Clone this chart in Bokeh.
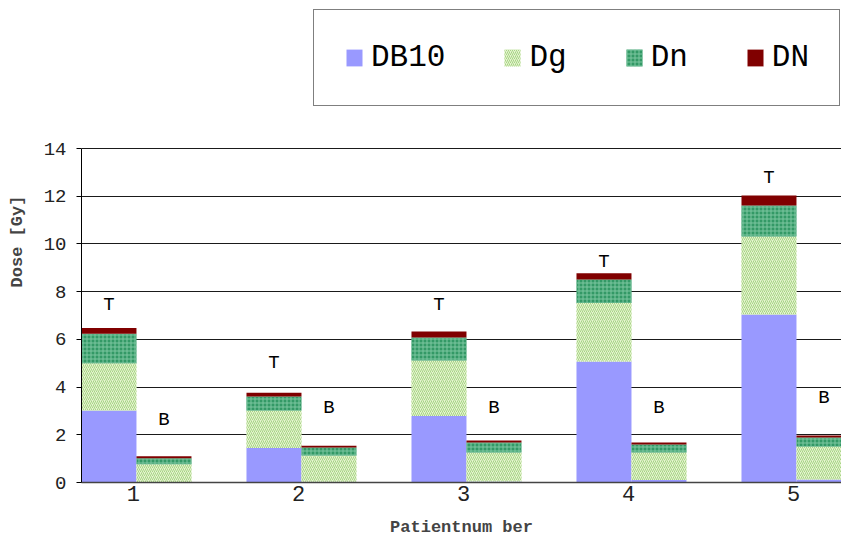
from bokeh.plotting import figure
from bokeh.models import Range1d, FixedTicker, Legend, LegendItem, ColumnDataSource
from bokeh.core.properties import value
from bokeh.embed import file_html
from bokeh.resources import INLINE

# ---- data ----
patients = [1, 2, 3, 4, 5]
series = ["DB10", "Dg", "Dn", "DN"]

# T (tumour) bars: segment values [Gy]
T_DB10 = [3.02, 1.45, 2.79, 5.07, 7.04]
T_Dg = [1.98, 1.57, 2.32, 2.45, 3.27]
T_Dn = [1.23, 0.58, 0.97, 0.99, 1.30]
T_DN = [0.25, 0.16, 0.25, 0.26, 0.42]

# B bars: segment values [Gy]
B_DB10 = [0.02, 0.03, 0.04, 0.10, 0.13]
B_Dg = [0.75, 1.10, 1.22, 1.16, 1.38]
B_Dn = [0.25, 0.34, 0.42, 0.33, 0.38]
B_DN = [0.08, 0.07, 0.08, 0.09, 0.08]

# label heights [Gy]
T_label_y = [7.46, 5.02, 7.46, 9.25, 12.76]
B_label_y = [2.62, 3.12, 3.12, 3.12, 3.54]

y_ticks = [0, 2, 4, 6, 8, 10, 12, 14]
y_max = 14

# ---- styling ----
FONT = "Liberation Mono"
colors = ["#9999ff", "#e6f4cf", "#339966", "#800000"]
hatch_patterns = [" ", "/", "+", " "]
hatch_colors = ["#9999ff", "#a6d486", "#7cc7a0", "#800000"]

bar_w = 0.3333
t_off = -0.1485
b_off = 0.1848

W, H = 841, 539
frame_left, frame_bottom_px, axis_top_px = 81, 482, 148
# frame spans whole canvas height above the axis so the legend can sit inside it
y_top = y_max * frame_bottom_px / (frame_bottom_px - axis_top_px)

srcT = ColumnDataSource(dict(x=[i + t_off for i in patients], DB10=T_DB10, Dg=T_Dg, Dn=T_Dn, DN=T_DN))
srcB = ColumnDataSource(dict(x=[i + b_off for i in patients], DB10=B_DB10, Dg=B_Dg, Dn=B_Dn, DN=B_DN))

p = figure(width=W, height=H,
           x_range=Range1d(0.685, 5.291), y_range=Range1d(0, y_top),
           output_backend="svg", toolbar_location=None,
           min_border_left=frame_left, min_border_right=0, min_border_top=0,
           min_border_bottom=H - frame_bottom_px)
p.outline_line_color = None
p.background_fill_color = "white"

rT = p.vbar_stack(series, x="x", width=bar_w, source=srcT,
                  fill_color=colors, line_color=None,
                  hatch_pattern=hatch_patterns, hatch_color=hatch_colors,
                  hatch_scale=4, hatch_weight=1)
rB = p.vbar_stack(series, x="x", width=bar_w, source=srcB,
                  fill_color=colors, line_color=None,
                  hatch_pattern=hatch_patterns, hatch_color=hatch_colors,
                  hatch_scale=4, hatch_weight=1)

labT = ColumnDataSource(dict(x=[i + t_off for i in patients], y=T_label_y, t=["T"] * len(patients)))
labB = ColumnDataSource(dict(x=[i + b_off for i in patients], y=B_label_y, t=["B"] * len(patients)))
for src in (labT, labB):
    p.text(x="x", y="y", text="t", source=src, text_font=value(FONT),
           text_font_size="19px", text_align="center", text_baseline="middle",
           text_color="black")

# axes
p.yaxis.ticker = FixedTicker(ticks=y_ticks)
p.yaxis.bounds = (0, y_max)
p.yaxis.minor_tick_line_color = None
p.yaxis.major_tick_out = 5
p.yaxis.major_tick_in = 0
p.yaxis.major_label_text_font = FONT
p.yaxis.major_label_text_font_size = "19px"
p.yaxis.major_label_text_color = "#222222"
p.yaxis.major_label_standoff = 10
p.yaxis.axis_line_color = "black"
p.yaxis.axis_label = "Dose [Gy]"
p.yaxis.axis_label_text_font = FONT
p.yaxis.axis_label_text_font_style = "bold"
p.yaxis.axis_label_text_font_size = "17px"
p.yaxis.axis_label_standoff = 14

p.xaxis.ticker = FixedTicker(ticks=patients)
p.xaxis.major_tick_line_color = None
p.xaxis.minor_tick_line_color = None
p.xaxis.major_label_text_font = FONT
p.xaxis.major_label_text_font_size = "22px"
p.xaxis.major_label_text_color = "#222222"
p.xaxis.major_label_standoff = -3
p.xaxis.axis_line_color = "#444444"
p.xaxis.axis_line_width = 1.5
p.xaxis.axis_label = "Patientnum ber"
p.xaxis.axis_label_text_font = FONT
p.xaxis.axis_label_text_font_style = "bold"
p.xaxis.axis_label_text_font_size = "17px"
p.xaxis.axis_label_standoff = 14

p.xgrid.visible = False
p.ygrid.ticker = FixedTicker(ticks=y_ticks)
p.ygrid.grid_line_color = "#1a1a1a"
p.ygrid.grid_line_width = 1

legend = Legend(items=[LegendItem(label=s, renderers=[r]) for s, r in zip(series, rT)],
                orientation="horizontal", location=(313 - frame_left, frame_bottom_px - 106),
                label_text_font=FONT, label_text_font_size="31px",
                label_text_color="black",
                border_line_color="black", border_line_width=1,
                background_fill_color="white", background_fill_alpha=1,
                padding=30, spacing=57, glyph_width=20, glyph_height=21,
                label_standoff=7, margin=0)
p.add_layout(legend)

open("out.html", "w").write(file_html(p, INLINE))
